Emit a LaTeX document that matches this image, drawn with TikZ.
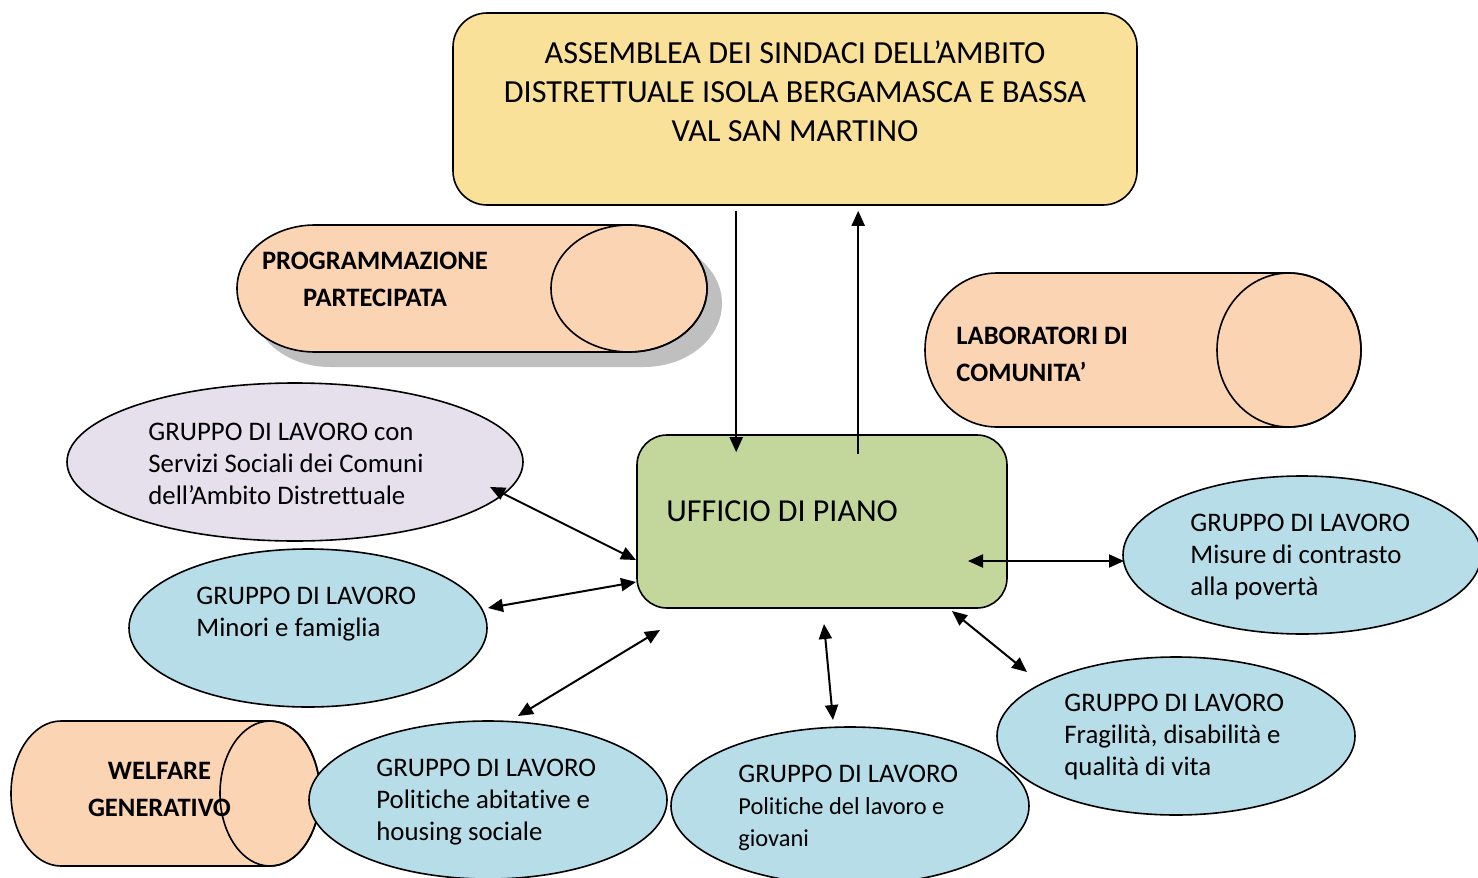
\documentclass[tikz,border=0pt]{standalone}
\usepackage{fontspec}
\setmainfont{Carlito}[Ligatures=NoCommon]
\usepackage{tikz}
\usetikzlibrary{arrows.meta,positioning,calc,shapes.geometric}

\definecolor{asmyellow}{HTML}{F9E199}
\definecolor{udpgreen}{HTML}{C3D69B}
\definecolor{cylpeach}{HTML}{FBD4B4}
\definecolor{grplilac}{HTML}{E5E0EC}
\definecolor{grpblue}{HTML}{B7DDE8}
\definecolor{shadowgrey}{HTML}{BFBFBF}

% lying cylinder: left, right, centre y, rx, ry (all in px), path options
\newcommand{\cylpath}[6]{%
  \path[#6] ({#1+#4},{#3-#5}) -- ({#2-#4},{#3-#5})
    arc[start angle=90,end angle=-90,x radius=#4*0.5pt,y radius=#5*0.5pt]
    -- ({#1+#4},{#3+#5})
    arc[start angle=-90,end angle=-270,x radius=#4*0.5pt,y radius=#5*0.5pt] -- cycle;
}

\begin{document}
\begin{tikzpicture}[x=0.5pt,y=-0.5pt,
    box/.style={draw,line width=0.8pt,inner sep=0pt},
    grp/.style={ellipse,draw,line width=0.8pt,fill=grpblue,minimum width=179pt,
      minimum height=79pt,inner sep=0pt},
    grptext/.style={anchor=west,inner sep=0pt,align=left,font=\fontsize{13.4}{16}\selectfont},
    cyltext/.style={inner sep=0pt,font=\fontsize{13.3}{18.5}\selectfont\bfseries},
    link/.style={line width=1pt,{Triangle[length=7.5pt,width=6.5pt]}-{Triangle[length=7.5pt,width=6.5pt]}},
    oneway/.style={line width=1pt,-{Triangle[length=7.5pt,width=6.5pt]}}]
  \useasboundingbox (0,0) rectangle (1478,878);

  % assemblea and ufficio
  \node[box,rounded corners=17pt,fill=asmyellow,minimum width=342pt,minimum height=96pt] (asm) at (795,109) {};
  \node[font=\fontsize{16.1}{19.5}\selectfont,align=center] (asmtxt) at (795,91.5)
    {ASSEMBLEA DEI SINDACI DELL’AMBITO\\DISTRETTUALE ISOLA BERGAMASCA E BASSA\\VAL SAN MARTINO};
  \node[box,rounded corners=15pt,fill=udpgreen,minimum width=185pt,minimum height=86.5pt] (udp) at (822,521.5) {};
  \node[font=\fontsize{16}{19}\selectfont,anchor=west,inner sep=0pt] (udptxt) at (666,511) {UFFICIO DI PIANO};

  % cylinders
  \cylpath{252}{722}{303.5}{78}{63.5}{fill=shadowgrey}
  \cylpath{237}{707}{288.5}{78}{63.5}{draw,line width=0.8pt,fill=cylpeach}
  \draw[line width=0.8pt] (629,288.5) ellipse[x radius=39pt,y radius=31.75pt];
  \node[cyltext,align=center] (progtxt) at (375,279.5) {PROGRAMMAZIONE\\PARTECIPATA};

  \cylpath{925}{1361}{350}{72}{77}{draw,line width=0.8pt,fill=cylpeach}
  \draw[line width=0.8pt] (1289,350) ellipse[x radius=36pt,y radius=38.5pt];
  \node[cyltext,align=left,anchor=west] (labtxt) at (956,354.5) {LABORATORI DI\\COMUNITA’};

  \cylpath{11}{320}{793.5}{50}{72.5}{draw,line width=0.8pt,fill=cylpeach}
  \draw[line width=0.8pt] (270,793.5) ellipse[x radius=25pt,y radius=36.25pt];
  \node[cyltext,align=center] (welftxt) at (159.5,789.5) {WELFARE\\GENERATIVO};

  % gruppi di lavoro
  \node[grp,fill=grplilac,minimum width=228pt] (lil) at (295,462) {};
  \node[grptext] (liltxt) at (148,464)
    {GRUPPO DI LAVORO con\\Servizi Sociali dei Comuni\\dell’Ambito Distrettuale};
  \node[grp] (min) at (308,628) {};
  \node[grptext] (mintxt) at (196,614) {GRUPPO DI LAVORO\\Minori e famiglia};
  \node[grp] (mis) at (1302,555) {};
  \node[grptext] (mistxt) at (1190,557) {GRUPPO DI LAVORO\\Misure di contrasto\\alla povertà};
  \node[grp] (frag) at (1176,736) {};
  \node[grptext] (fragtxt) at (1064,737) {GRUPPO DI LAVORO\\Fragilità, disabilità e\\qualità di vita};
  \node[grp] (abit) at (488,800) {};
  \node[grptext] (abittxt) at (376,802) {GRUPPO DI LAVORO\\Politiche abitative e\\housing sociale};
  \node[grp] (lav) at (850,806) {};
  \node[grptext] (lavtxt) at (738,808)
    {GRUPPO DI LAVORO\\{\fontsize{12.2}{16}\selectfont Politiche del lavoro e}\\{\fontsize{12.2}{16}\selectfont giovani}};

  % connectors
  \draw[oneway] ($(asm.south west)+(284,5)$) -- ($(udp.north west)+(100,18)$);
  \draw[oneway] ($(udp.north west)+(222,20)$) -- ($(asm.south west)+(406,5)$);
  \draw[link] ($(lil.center)+(195,25)$) -- ($(udp.center)+(-186,38.5)$);
  \draw[link] ($(min.center)+(180,-20)$) -- ($(udp.center)+(-186,60.5)$);
  \draw[link] ($(abit.center)+(30,-84)$) -- ($(udp.center)+(-162,108.5)$);
  \draw[link] ($(lav.center)+(-17,-86)$) -- ($(udp.center)+(2,102.5)$);
  \draw[link] ($(frag.center)+(-149,-64)$) -- ($(udp.center)+(130,89.5)$);
  \draw[link] ($(mis.center)+(-178,6)$) -- ($(udp.center)+(146,39.5)$);
\end{tikzpicture}
\end{document}
